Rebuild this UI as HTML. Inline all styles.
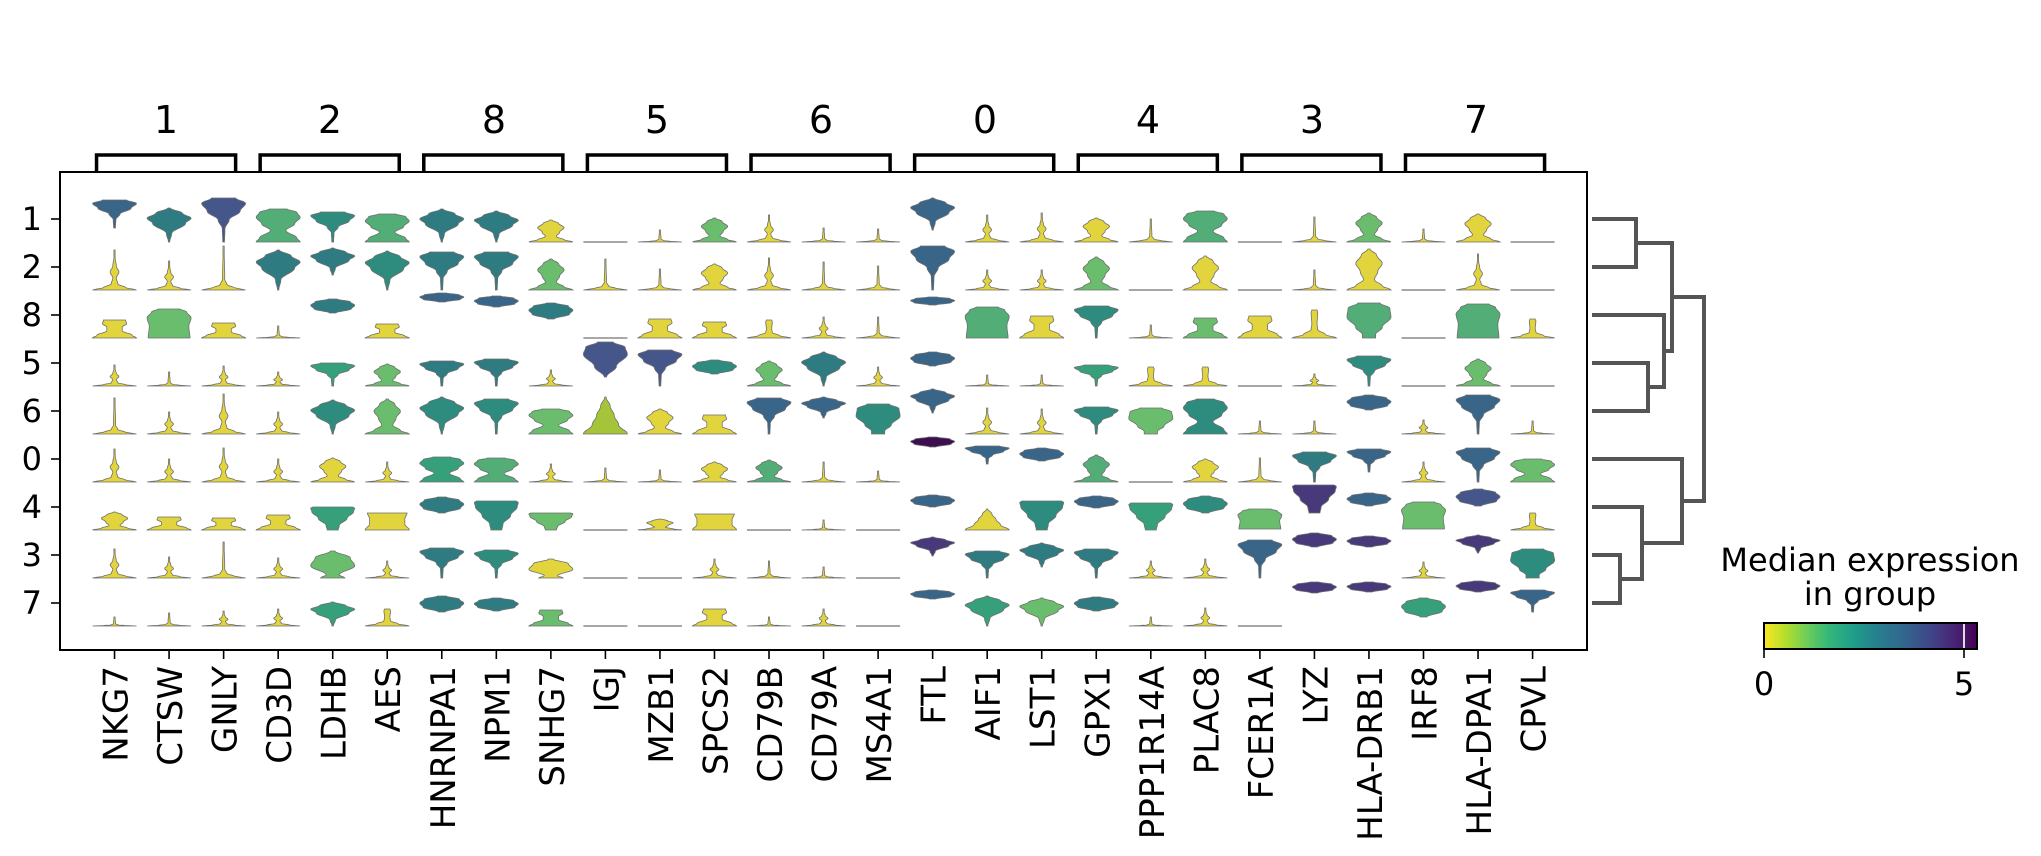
<!DOCTYPE html>
<html><head><meta charset="utf-8">
<style>
html,body{margin:0;padding:0;background:#fff;}
svg{display:block;font-family:"DejaVu Sans","Liberation Sans",sans-serif;}
</style></head>
<body>
<svg id="s" width="2041" height="856" viewBox="0 0 2041 856" xmlns="http://www.w3.org/2000/svg">
<defs>
<linearGradient id="vir" x1="0" x2="1" y1="0" y2="0">
<stop offset="0" stop-color="#fde725"/><stop offset="0.1" stop-color="#b5de2b"/>
<stop offset="0.2" stop-color="#6ece58"/><stop offset="0.3" stop-color="#35b779"/>
<stop offset="0.42" stop-color="#1f9e89"/><stop offset="0.52" stop-color="#26828e"/>
<stop offset="0.65" stop-color="#31688e"/><stop offset="0.77" stop-color="#3e4989"/>
<stop offset="0.88" stop-color="#482878"/><stop offset="1" stop-color="#440154"/>
</linearGradient>
</defs>
<g id="vio"></g>
<rect x="60" y="172" width="1527" height="478" fill="none" stroke="#000" stroke-width="2"/>
<g id="ticks" stroke="#000" stroke-width="1.6"></g>
<g font-size="32" text-anchor="end" fill="#000">
<text x="42" y="230">1</text><text x="42" y="278">2</text><text x="42" y="326">8</text>
<text x="42" y="374">5</text><text x="42" y="422">6</text><text x="42" y="470">0</text>
<text x="42" y="518">4</text><text x="42" y="566">3</text><text x="42" y="614">7</text>
</g>
<g font-size="34" text-anchor="end" fill="#000">
<text transform="translate(127.5,666) rotate(-90)">NKG7</text>
<text transform="translate(182,666) rotate(-90)">CTSW</text>
<text transform="translate(236.6,666) rotate(-90)">GNLY</text>
<text transform="translate(291.2,666) rotate(-90)">CD3D</text>
<text transform="translate(345.7,666) rotate(-90)">LDHB</text>
<text transform="translate(400.2,666) rotate(-90)">AES</text>
<text transform="translate(454.8,666) rotate(-90)">HNRNPA1</text>
<text transform="translate(509.3,666) rotate(-90)">NPM1</text>
<text transform="translate(563.9,666) rotate(-90)">SNHG7</text>
<text transform="translate(618.4,666) rotate(-90)">IGJ</text>
<text transform="translate(672.9,666) rotate(-90)">MZB1</text>
<text transform="translate(727.5,666) rotate(-90)">SPCS2</text>
<text transform="translate(782,666) rotate(-90)">CD79B</text>
<text transform="translate(836.6,666) rotate(-90)">CD79A</text>
<text transform="translate(891.1,666) rotate(-90)">MS4A1</text>
<text transform="translate(945.6,666) rotate(-90)">FTL</text>
<text transform="translate(1000.2,666) rotate(-90)">AIF1</text>
<text transform="translate(1054.7,666) rotate(-90)">LST1</text>
<text transform="translate(1109.3,666) rotate(-90)">GPX1</text>
<text transform="translate(1163.8,666) rotate(-90)">PPP1R14A</text>
<text transform="translate(1218.3,666) rotate(-90)">PLAC8</text>
<text transform="translate(1272.9,666) rotate(-90)">FCER1A</text>
<text transform="translate(1327.4,666) rotate(-90)">LYZ</text>
<text transform="translate(1382,666) rotate(-90)">HLA-DRB1</text>
<text transform="translate(1436.5,666) rotate(-90)">IRF8</text>
<text transform="translate(1491,666) rotate(-90)">HLA-DPA1</text>
<text transform="translate(1545.6,666) rotate(-90)">CPVL</text>
</g>
<g id="br" fill="none" stroke="#000" stroke-width="3.5"></g>
<g font-size="38" text-anchor="middle" fill="#000">
<text x="166" y="133">1</text><text x="330" y="133">2</text><text x="494" y="133">8</text>
<text x="657" y="133">5</text><text x="821" y="133">6</text><text x="985" y="133">0</text>
<text x="1148" y="133">4</text><text x="1312" y="133">3</text><text x="1476" y="133">7</text>
</g>
<g fill="none" stroke="#555" stroke-width="4">
<path d="M1592,219 H1636 V267 H1592"/>
<path d="M1592,363 H1648 V411 H1592"/>
<path d="M1592,315 H1664 V387 H1648"/>
<path d="M1636,243 H1672 V351 H1664"/>
<path d="M1592,555 H1620 V603 H1592"/>
<path d="M1592,507 H1642 V579 H1620"/>
<path d="M1592,459 H1682 V543 H1642"/>
<path d="M1672,297 H1704 V501 H1682"/>
</g>
<g font-size="32" text-anchor="middle" fill="#000">
<text x="1870" y="571">Median expression</text>
<text x="1870" y="605">in group</text>
<text x="1764" y="695">0</text>
<text x="1964" y="695">5</text>
</g>
<rect x="1764" y="623" width="213" height="26" fill="url(#vir)" stroke="#000" stroke-width="2"/>
<line x1="1964" y1="624" x2="1964" y2="648" stroke="#ddd" stroke-width="2"/>
<line x1="1764" y1="649" x2="1764" y2="658" stroke="#000" stroke-width="1.6"/>
<line x1="1964" y1="649" x2="1964" y2="658" stroke="#000" stroke-width="1.6"/>
</svg>
<script>
(function(){
var NS="http://www.w3.org/2000/svg";
var C={y:"#e2d43c",l:"#a6c43a",g:"#6abd6c",m:"#52ad76",e:"#35a07a",t:"#2e8c7e",c:"#2e7b81",b:"#396588",s:"#45568a",p:"#47397a",d:"#3d0f50"};
var P={
Z:[[0,1],[0.05,0.5],[0.12,0.15],[0.25,0.05],[1,0.02]],
B:[[0,1],[0.06,0.5],[0.15,0.15],[0.3,0.08],[0.45,0.2],[0.6,0.08],[0.8,0.03],[1,0.01]],
Y:[[0,1],[0.1,0.6],[0.25,0.25],[0.45,0.4],[0.65,0.6],[0.85,0.35],[1,0.05]],
H:[[0,1],[0.12,0.85],[0.35,0.35],[0.55,0.75],[0.75,1],[0.9,0.85],[1,0.4]],
K:[[0,1],[0.15,0.8],[0.4,0.35],[0.6,0.35],[0.8,0.55],[1,0.5]],
N:[[0,1],[0.12,0.5],[0.3,0.15],[0.5,0.12],[0.9,0.15],[1,0.12]],
R:[[0,0.95],[0.4,0.9],[0.7,1],[0.9,0.8],[1,0.5]],
T:[[0,0.04],[0.3,0.06],[0.5,0.25],[0.7,0.75],[0.88,1],[1,0.55]],
D:[[0,0.03],[0.25,0.12],[0.55,0.75],[0.7,1],[0.85,0.6],[1,0.05]],
X:[[0,0.15],[0.3,0.85],[0.55,1],[0.8,0.8],[1,0.2]],
U:[[0,0.25],[0.2,0.3],[0.5,0.65],[0.8,0.95],[0.95,1],[1,0.9]],
A:[[0,1],[0.25,0.6],[0.5,0.4],[0.75,0.22],[1,0.03]],
O:[[0,0.3],[0.1,0.3],[0.3,0.6],[0.6,1],[0.85,0.95],[1,0.5]],
G:[[0,0.55],[0.12,0.3],[0.45,1],[0.75,0.8],[1,0.1]],
V:[[0,0.05],[0.3,0.5],[0.65,1],[0.85,0.9],[1,0.35]],
W:[[0,1],[0.35,0.8],[0.65,0.8],[1,0.9]]
};
var rows=[
"Tb14-42 Dc34 Ts44 Hm33 Tt30 Hm28 Dc33 Dc31 Yy22 F Zy12 Yg24 By27 Zy14 Zy13 Db12-44 By27 By29 Yy24 Zy23 Hm31 F Zy25 Yg29 Zy13 Yy28 F",
"By40 By29 Zy44 Dc40 Dc15-42 Dt39 Tc38 Tc38 Yg31 Zy31 Zy21 Yy26 By32 Zy28 Zy24 Tb44 By20 By20 Yg33 F Yy34 F Zy20 Yy41 F By36 F",
"Ky18 Rg29 Ky15 Zy12 Xc25-39 Ky14 Xb36-45 Xb31-42 Xc19-35 F Ky19 Ky16 Ny18 By21 Zy21 Xb33-41 Rm31 Ky22 Tt32 Zy13 Kg20 Ky22 Ny28 Om35 F Rm34 Ny19",
"By21 Zy14 By20 By14 Te23 Yg22 Tc25 Tc27 By16 Vs9-44 Ts36 Xt12-26 Yg25 Dc34 By19 Xb20-34 Zy11 Zy11 Te21 Ny19 Ny19 F By12 Tt30 F Yg27 F",
"Zy36 By22 By40 By22 Dt34 Yg35 Dt37 Tt35 Hg25 Al37 Yy25 Ky19 Tb36 Db16-37 Ot30 Db21-45 By26 By25 Tt27 Og26 Ht35 Zy13 Zy13 Xb24-39 By14 Tb39 Zy13",
"By33 By23 By34 By23 Yy24 By20 He25 Hm24 By18 Zy14 Zy12 Yy20 Ym22 Zy20 Zy11 Xd35-45 Tb18-36 Xb21-34 Ym27 F Yy23 Zy24 Tc30 Tb10-33 By20 Tb34 Hg23",
"Yy18 Ky13 Ky12 Ky15 Ue23 Wy17 Xc17-33 Ut29 Ug17 F Yy11 Wy16 F Zy10 F Xb23-35 Ay21 Ut29 Xb22-34 Ue27 Xt17-34 Rg1-21 Up17-45 Xb24-37 Rg1-28 Xs24-41 Ny17",
"By29 By21 Zy36 By20 Gg27 By17 Tc30 Tt28 Gy19 F F By19 Zy17 Zy11 F Dp22-41 Tc27 Dc11-35 Tc29 By17 By19 Tb38 Xp31-45 Xp31-42 By16 Dp25-43 Ot29",
"Zy9 Zy13 By15 By17 De24 Ny17 Xc14-30 Xc15-28 Kg16 F F Ky17 Zy9 By17 F Xb27-36 De30 Dg28 Xc15-29 Zy9 By18 F Xp33-44 Xp34-44 Xe9-28 Xp34-45 Tb14-36"
];
var g=document.getElementById("vio");
var HW=22;
function prof(pr,u){
 for(var i=1;i<pr.length;i++){
  if(u<=pr[i][0]){var a=pr[i-1],b=pr[i];var f=(u-a[0])/(b[0]-a[0]);f=(1-Math.cos(f*Math.PI))/2;return a[1]+(b[1]-a[1])*f;}
 }
 return pr[pr.length-1][1];
}
for(var r=0;r<9;r++){
 var base=219+48*r+23;
 var toks=rows[r].split(" ");
 for(var i=0;i<toks.length;i++){
  var cx=60+54.54*(i+1);
  var tk=toks[i];
  if(tk==="F"){
   var l=document.createElementNS(NS,"line");
   l.setAttribute("x1",cx-HW);l.setAttribute("x2",cx+HW);l.setAttribute("y1",base);l.setAttribute("y2",base);
   l.setAttribute("stroke","#8a8a8a");l.setAttribute("stroke-width","1.6");g.appendChild(l);continue;
  }
  var sh=P[tk[0]],col=C[tk[1]],nums=tk.slice(2).split("-");
  var b0=0,t0;
  if(nums.length>1){b0=+nums[0];t0=+nums[1];}else{t0=+nums[0];}
  var N=40,L=[],R=[];
  for(var k=0;k<=N;k++){
   var u=k/N,y=base-(b0+(t0-b0)*u),w=Math.max(0.6,prof(sh,u)*HW);
   R.push((cx+w).toFixed(1)+","+y.toFixed(1));
   L.push((cx-w).toFixed(1)+","+y.toFixed(1));
  }
  var d="M"+R.join(" L")+" L"+L.reverse().join(" L")+"Z";
  var p=document.createElementNS(NS,"path");
  p.setAttribute("d",d);p.setAttribute("fill",col);p.setAttribute("stroke","#6f6f6f");p.setAttribute("stroke-width","0.8");
  g.appendChild(p);
 }
}
var tg=document.getElementById("ticks");
function ln(x1,y1,x2,y2,par){var l=document.createElementNS(NS,"line");l.setAttribute("x1",x1);l.setAttribute("y1",y1);l.setAttribute("x2",x2);l.setAttribute("y2",y2);par.appendChild(l);}
for(var r=0;r<9;r++){ln(51,219+48*r,60,219+48*r,tg);}
for(var i=0;i<27;i++){var x=60+54.54*(i+1);ln(x,650,x,659,tg);}
var bg=document.getElementById("br");
for(var j=0;j<9;j++){
 var x0=60+54.54*(3*j+1)-18,x1=60+54.54*(3*j+3)+12;
 var p=document.createElementNS(NS,"path");
 p.setAttribute("d","M"+x0+",172 V155 H"+x1+" V172");bg.appendChild(p);
}
})();
</script>
</body></html>
